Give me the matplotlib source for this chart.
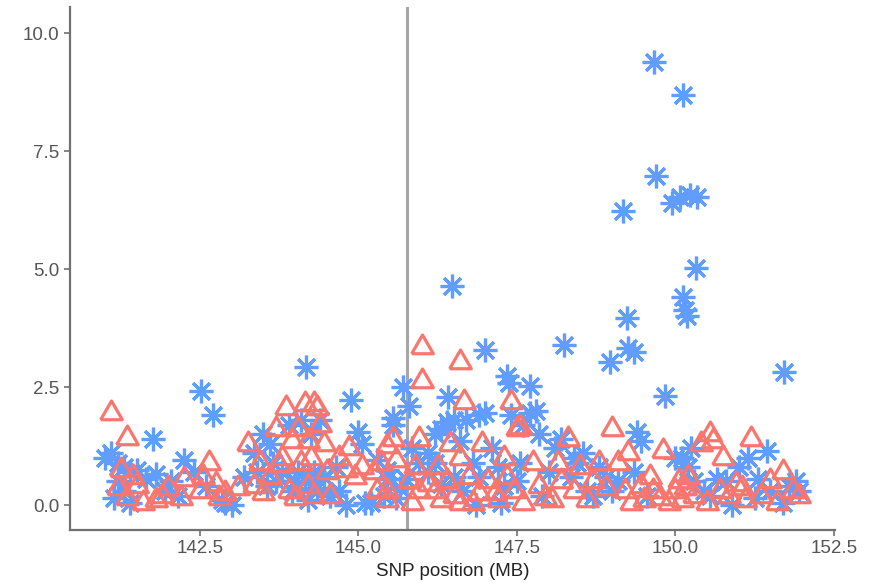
import matplotlib.pyplot as plt

# blue asterisks (series A)
blue_x = [141.0, 141.1, 141.2, 141.3, 141.4, 141.15, 141.3, 141.5, 141.65, 141.76, 141.8, 141.95, 141.4, 141.2,
          142.05, 142.25, 142.52, 142.70, 142.6, 142.9, 143.0, 142.85, 142.4, 142.15,
          143.35, 143.4, 143.5, 143.6, 143.55, 143.7, 143.8, 143.95, 144.0, 143.9, 143.2, 143.65,
          144.17, 144.1, 144.25, 144.4, 144.05, 144.15, 144.3, 144.35, 144.45, 144.55, 144.2, 144.88, 145.0, 145.05,
          144.7, 144.8, 144.65, 145.1,
          145.7, 145.8, 145.55, 145.55, 145.45, 145.45, 145.4, 145.6, 145.3, 145.85, 145.95, 145.75, 145.2, 145.65,
          146.1, 146.2, 146.3, 146.4, 146.47, 146.41, 146.5, 146.6, 146.1, 146.2, 146.3, 146.5, 146.7, 146.8,
          146.9, 147.0, 146.65, 146.9, 147.0, 146.85,
          147.35, 147.38, 147.71, 147.1, 147.2, 147.3, 147.4, 147.5, 147.6, 147.7, 147.8, 147.85, 147.9, 148.0,
          147.25, 147.55,
          148.1, 148.25, 148.2, 148.35, 148.45, 148.55, 148.6, 148.7, 148.8, 148.97, 148.9, 149.0, 148.4,
          149.18, 149.24, 149.26, 149.35, 149.4, 149.45, 149.35, 149.665, 149.70, 149.84, 149.95, 150.0, 149.55, 149.1,
          150.12, 150.07, 150.23, 150.34, 150.33, 150.12, 150.15, 150.18, 150.1, 150.2, 150.3, 150.45, 150.55, 150.65,
          150.8, 150.9, 150.25,
          151.0, 151.15, 151.3, 151.45, 151.5, 151.71, 151.7, 151.8, 151.9, 151.95, 151.25]
blue_y = [1.0, 1.1, 0.9, 0.8, 0.7, 0.15, 0.3, 0.75, 0.55, 1.40, 0.65, 0.3, 0.05, 0.5,
          0.5, 0.95, 2.42, 1.91, 0.4, 0.05, 0.0, 0.1, 0.7, 0.2,
          1.1, 0.7, 1.5, 1.3, 0.4, 0.5, 0.7, 0.3, 0.5, 1.7, 0.6, 0.9,
          2.92, 1.8, 1.5, 1.8, 0.7, 0.5, 0.7, 0.35, 0.6, 0.2, 0.1, 2.22, 1.55, 1.3,
          0.3, 0.0, 0.8, 0.05,
          2.5, 2.1, 1.7, 1.85, 0.75, 0.55, 0.2, 0.15, 0.95, 1.2, 0.9, 0.55, 0.05, 0.35,
          1.1, 1.5, 1.6, 1.75, 4.64, 2.29, 1.8, 1.35, 0.7, 0.9, 0.45, 0.6, 1.8, 0.9,
          0.6, 3.28, 0.3, 1.9, 1.95, 0.0,
          2.73, 2.58, 2.52, 1.2, 0.8, 0.4, 1.9, 0.5, 1.7, 1.95, 2.0, 1.5, 0.2, 0.7,
          0.05, 0.9,
          1.2, 3.39, 1.4, 0.6, 0.9, 1.1, 0.3, 0.2, 0.8, 3.03, 0.6, 0.3, 1.0,
          6.23, 3.96, 3.33, 3.24, 1.55, 1.35, 0.7, 9.39, 6.97, 2.31, 6.40, 1.0, 0.2, 0.5,
          8.69, 6.53, 6.57, 6.53, 5.02, 4.41, 4.13, 4.0, 1.0, 0.8, 0.5, 0.3, 0.2, 0.55,
          0.5, 0.0, 1.2,
          0.8, 1.0, 0.55, 1.15, 0.3, 2.82, 0.05, 0.4, 0.5, 0.3, 0.15]

# red triangles (series B)
red_x = [141.1, 141.35, 141.2, 141.35, 141.6, 141.8, 141.5, 141.25, 141.9, 141.45,
         142.0, 142.25, 142.5, 142.65, 142.55, 142.8, 142.9, 142.2, 142.75,
         143.25, 143.1, 143.35, 143.5, 143.6, 143.7, 143.85, 143.95, 143.75, 143.9, 143.45, 143.8,
         144.05, 144.15, 144.3, 144.35, 144.2, 144.25, 144.4, 144.45, 144.1, 144.0, 144.3, 144.55, 144.7, 144.8,
         144.95, 144.85, 145.05, 144.5, 144.2,
         145.3, 145.45, 145.45, 145.45, 145.55, 145.35, 145.6, 145.8, 145.9, 145.95, 146.0, 146.0, 145.85, 145.95,
         145.25,
         146.1, 146.2, 146.3, 146.4, 146.5, 146.6, 146.61, 146.66, 146.45, 146.6, 146.75, 146.9, 146.95, 146.8,
         146.25,
         147.05, 147.2, 147.35, 147.4, 147.5, 147.55, 147.6, 147.75, 147.85, 147.95, 147.15, 147.3, 147.45,
         148.05, 148.2, 148.3, 148.4, 148.5, 148.6, 148.7, 148.8, 148.9, 149.0, 148.15,
         149.1, 149.2, 149.25, 149.3, 149.45, 149.5, 149.65, 149.75, 149.8, 149.9, 149.6,
         150.0, 150.05, 150.1, 150.15, 150.2, 150.3, 150.4, 150.55, 150.6, 150.75, 150.85, 150.95, 150.5, 150.7,
         151.05, 151.2, 151.35, 151.5, 151.7, 151.85, 151.95, 151.1, 151.6]
red_y = [1.95, 1.42, 0.35, 0.15, 0.05, 0.1, 0.4, 0.75, 0.2, 0.6,
         0.35, 0.55, 0.3, 0.9, 0.6, 0.15, 0.25, 0.15, 0.45,
         1.3, 0.35, 0.4, 0.25, 0.6, 1.6, 2.05, 1.35, 0.85, 0.3, 0.9, 1.0,
         1.6, 2.15, 2.15, 2.05, 1.35, 1.0, 1.7, 1.3, 0.9, 0.15, 0.2, 0.2, 1.0, 0.75,
         0.6, 1.2, 0.8, 0.7, 0.4,
         0.3, 0.3, 0.1, 1.25, 1.4, 0.9, 0.95, 0.5, 0.8, 1.4, 3.35, 2.63, 0.05, 0.3,
         0.7,
         0.45, 0.3, 0.1, 0.5, 0.2, 0.05, 3.03, 2.18, 1.3, 1.0, 0.6, 0.25, 1.3, 0.05,
         0.8,
         0.5, 0.1, 0.6, 2.18, 1.6, 1.65, 0.05, 0.9, 0.4, 0.15, 0.25, 1.0, 0.3,
         0.1, 0.5, 1.4, 0.3, 0.8, 0.1, 0.5, 0.9, 0.35, 1.6, 0.9,
         0.9, 0.3, 1.1, 0.05, 0.4, 0.1, 0.3, 0.15, 1.15, 0.05, 0.6,
         0.3, 0.5, 0.1, 0.35, 0.6, 0.2, 1.3, 1.5, 1.35, 1.0, 0.2, 0.45, 0.05, 0.3,
         0.35, 1.4, 0.2, 0.5, 0.7, 0.3, 0.2, 0.1, 0.05]

x_ticks = [142.5, 145.0, 147.5, 150.0, 152.5]
y_ticks = [0.0, 2.5, 5.0, 7.5, 10.0]
vline_x = 145.76

plt.rcParams['font.family'] = ['Liberation Sans', 'DejaVu Sans']

fig = plt.figure(figsize=(8.69, 5.88), dpi=100)
ax = fig.add_axes([0.0806, 0.0986, 0.8804, 0.8894])

# equilateral triangle like ggplot shape 2
tri = [(-1, -0.577), (1, -0.577), (0, 1.155), (-1, -0.577)]

ax.axvline(vline_x, color='#a6a6a6', lw=2.2, zorder=1)
ax.plot(blue_x, blue_y, ls='none', marker=(8, 2, 0), ms=17, mew=2.3, color='#619CFF', zorder=2)
ax.plot(red_x, red_y, ls='none', marker=tri, ms=18, mew=2.3, mfc='none', mec='#F8766D', zorder=3)

ax.set_xlim(140.45, 152.52)
ax.set_ylim(-0.53, 10.55)
ax.set_xticks(x_ticks)
ax.set_yticks(y_ticks)
ax.set_xticklabels(['%.1f' % v for v in x_ticks])
ax.set_yticklabels(['%.1f' % v for v in y_ticks])
ax.tick_params(colors='#707070', labelcolor='#555555', labelsize=13.5, length=4, width=1.2)
for s in ['top', 'right']:
    ax.spines[s].set_visible(False)
for s in ['left', 'bottom']:
    ax.spines[s].set_color('#707070')
    ax.spines[s].set_linewidth(1.6)
ax.set_xlabel('SNP position (MB)', fontsize=13.5, color='#222222', labelpad=4)

fig.savefig('out.png', dpi=100)
